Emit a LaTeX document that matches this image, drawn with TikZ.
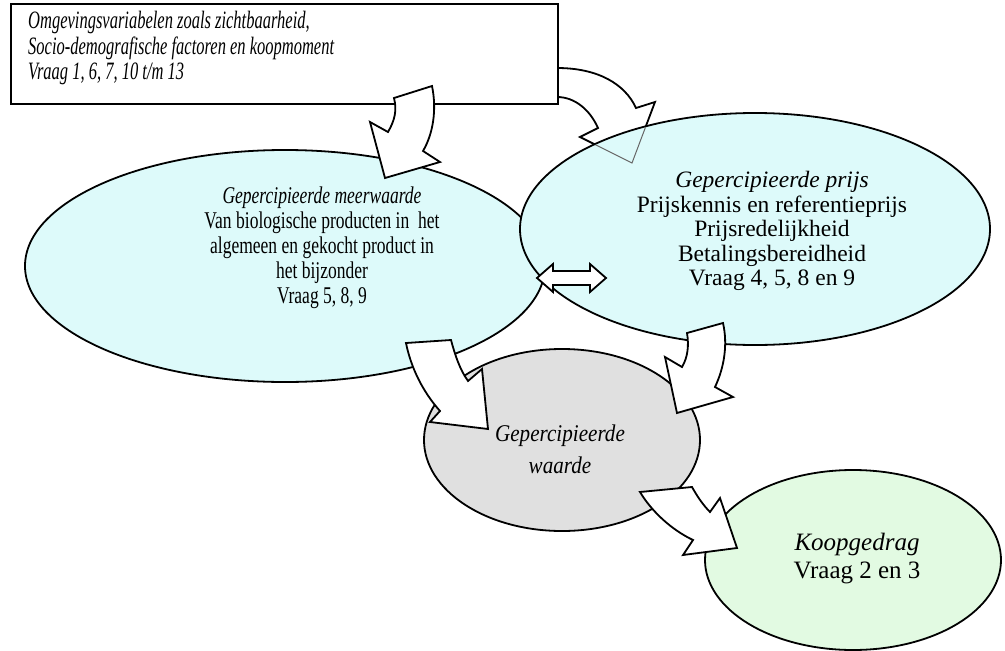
\documentclass[tikz,border=0pt]{standalone}
\usepackage{fontspec}
\setmainfont{Liberation Serif}
\newfontfamily\condA[FakeStretch=0.66]{Liberation Serif}
\newfontfamily\condB[FakeStretch=0.73]{Liberation Serif}
\newfontfamily\condC[FakeStretch=0.88]{Liberation Serif}
\usetikzlibrary{shapes.geometric}
\definecolor{lcyan}{RGB}{221,250,250}
\definecolor{lgrey}{RGB}{224,224,224}
\definecolor{lgreen}{RGB}{226,250,226}
\def\arrowtwo{(557,68) .. controls (598,68) and (625,84) .. (636,108)
  -- (655,102) -- (632,163) -- (580,137) -- (598,128)
  .. controls (590,110) and (575,97) .. (557,97) -- cycle}
\begin{document}
\begin{tikzpicture}[x=1pt,y=-1pt,
  outl/.style={draw=black,line width=1.8pt,line join=miter},
  blk/.style={outl,fill=white},
  ell/.style={outl,ellipse,inner sep=0pt},
  txt/.style={align=center,inner sep=0pt}]
\useasboundingbox (0,0) rectangle (1005,651);
% arrow behind rectangle and right ellipse
\draw[blk] \arrowtwo;
% rectangle
\node[outl,fill=white,minimum width=547pt,minimum height=100pt,anchor=north west,inner sep=0pt] (top) at (10,3) {};
\node[txt,align=left,anchor=west,font=\condA\itshape\fontsize{25}{25.5}\selectfont] (toptext) at (28,48)
  {Omgevingsvariabelen zoals zichtbaarheid,\\Socio-demografische factoren en koopmoment\\Vraag 1, 6, 7, 10 t/m 13};
% ellipses
\node[ell,fill=lcyan,minimum width=520pt,minimum height=232pt] (L) at (285,266) {};
\node[ell,fill=lcyan,minimum width=470pt,minimum height=232pt] (R) at (755,229) {};
\begin{scope}
  \clip (755,229) ellipse [x radius=234pt, y radius=115pt];
  \draw[black!60,line width=1pt] \arrowtwo;
\end{scope}
\node[ell,fill=lgrey,minimum width=276pt,minimum height=182pt] (G) at (562,440) {};
\node[ell,fill=lgreen,minimum width=296pt,minimum height=180pt] (K) at (853,560) {};
% texts
\node[txt,font=\condB\fontsize{24}{25}\selectfont] (Ltext) at (322,248)
  {\textit{Gepercipieerde meerwaarde}\\Van biologische producten in\ \ het\\algemeen en gekocht product in\\het bijzonder\\Vraag 5, 8, 9};
\node[txt,font=\fontsize{23.5}{24.5}\selectfont] (Rtext) at (772,231)
  {\textit{Gepercipieerde prijs}\\Prijskennis en referentieprijs\\Prijsredelijkheid\\Betalingsbereidheid\\Vraag 4, 5, 8 en 9};
\node[txt,font=\condC\itshape\fontsize{24}{32}\selectfont] (Gtext) at (560,449)
  {Gepercipieerde\\waarde};
\node[txt,font=\fontsize{25}{28}\selectfont] (Ktext) at (857,559)
  {\textit{Koopgedrag}\\Vraag 2 en 3};
% block arrows
\draw[blk] (394,98) -- (432,86) .. controls (437,110) and (433,134) .. (423,151)
  -- (440,162) -- (385,178) -- (370,122) -- (388,132)
  .. controls (395,120) and (397,110) .. (394,98) -- cycle;
\draw[blk] (406,343) -- (451,340) .. controls (455,355) and (460,370) .. (468,381)
  -- (482,369) -- (488,429) -- (430,422) -- (440,411)
  .. controls (423,392) and (411,368) .. (406,343) -- cycle;
\draw[blk] (687,333) -- (723,323) .. controls (728,345) and (724,368) .. (715,387)
  -- (733,397) -- (677,413) -- (665,357) -- (682,367)
  .. controls (688,357) and (689,345) .. (687,333) -- cycle;
\draw[blk] (640,492) -- (692,487) .. controls (697,496) and (703,505) .. (710,512)
  -- (720,498) -- (737,548) -- (683,555) -- (693,540)
  .. controls (672,530) and (652,512) .. (640,492) -- cycle;
% double arrow
\draw[blk] (537,278) -- (553,264) -- (553,271) -- (590,271) -- (590,264) -- (606,278)
  -- (590,292) -- (590,285) -- (553,285) -- (553,292) -- cycle;
\end{tikzpicture}
\end{document}
